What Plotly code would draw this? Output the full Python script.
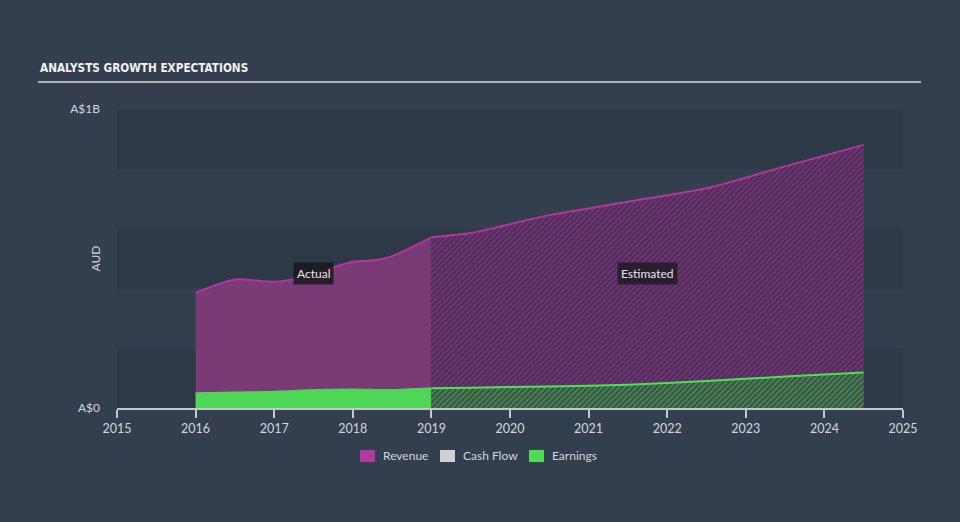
import plotly.graph_objects as go

# ---- data ----
rev_act_x = [2016.0, 2016.5, 2017.0, 2017.3, 2018.0, 2018.3, 2018.5, 2019.0]
rev_act_y = [0.386e9, 0.430e9, 0.422e9, 0.434e9, 0.489e9, 0.495e9, 0.508e9, 0.571e9]
rev_est_x = [2019.0, 2019.5, 2020.5, 2021.5, 2022.5, 2023.5, 2024.5]
rev_est_y = [0.571e9, 0.585e9, 0.645e9, 0.690e9, 0.735e9, 0.808e9, 0.880e9]

earn_act_x = [2016.0, 2016.5, 2017.0, 2017.5, 2018.0, 2018.5, 2019.0]
earn_act_y = [0.049e9, 0.052e9, 0.054e9, 0.060e9, 0.062e9, 0.060e9, 0.066e9]
earn_est_x = [2019.0, 2019.5, 2020.5, 2021.5, 2022.5, 2023.5, 2024.5]
earn_est_y = [0.066e9, 0.068e9, 0.072e9, 0.078e9, 0.090e9, 0.105e9, 0.119e9]

x_ticks = list(range(2015, 2026))
y_tickvals = [0, 1e9]
y_ticktext = ["A$0", "A$1B"]
legend_names = ["Revenue", "Cash Flow", "Earnings"]
legend_colors = ["#B0399E", "#CFCFCF", "#4FD957"]

BG = "#333F4E"
BAND = "#2E3947"
TXT = "#D2D6DC"
FONT = "Lato"

fig = go.Figure()

fig.add_trace(go.Scatter(
    x=rev_act_x, y=rev_act_y, mode="lines", fill="tozeroy",
    fillcolor="#7A3A76", line=dict(color="#B0389C", width=2, shape="spline", smoothing=0.6),
    showlegend=False, hoverinfo="skip"))
fig.add_trace(go.Scatter(
    x=rev_est_x, y=rev_est_y, mode="lines", fill="tozeroy",
    fillpattern=dict(shape="/", bgcolor="#4A2E55", fgcolor="#9E3898", size=4, solidity=0.5),
    line=dict(color="#B0389C", width=2, shape="spline", smoothing=0.6),
    showlegend=False, hoverinfo="skip"))
fig.add_trace(go.Scatter(
    x=earn_act_x, y=earn_act_y, mode="lines", fill="tozeroy",
    fillcolor="#4ED656", line=dict(color="#4ED656", width=2, shape="spline", smoothing=0.6),
    showlegend=False, hoverinfo="skip"))
fig.add_trace(go.Scatter(
    x=earn_est_x, y=earn_est_y, mode="lines", fill="tozeroy",
    fillpattern=dict(shape="/", bgcolor="#3A4C47", fgcolor="#4EC452", size=4, solidity=0.5),
    line=dict(color="#4FE056", width=2, shape="spline", smoothing=0.6),
    showlegend=False, hoverinfo="skip"))

shapes = []
# horizontal bands
for i in range(5):
    if i % 2 == 0:
        shapes.append(dict(type="rect", xref="paper", yref="y", x0=0, x1=1,
                           y0=i * 0.2e9, y1=(i + 1) * 0.2e9,
                           fillcolor=BAND, line_width=0, layer="below"))
# title underline
shapes.append(dict(type="line", xref="paper", yref="paper",
                   x0=-79/786, x1=804/786, y0=(522-82-114)/299, y1=(522-82-114)/299,
                   line=dict(color="#AEB3BA", width=2)))

annotations = [
    dict(text="<b>ANALYSTS GROWTH EXPECTATIONS</b>", xref="paper", yref="paper",
         x=-79/786, y=(522-68-114)/299, xanchor="left", yanchor="middle", showarrow=False,
         font=dict(family="DejaVu Sans Condensed", size=11.7, color="#F2F2F2"),),
    dict(text="AUD", xref="paper", yref="paper", x=-22/786, y=0.5, textangle=-90,
         xanchor="center", yanchor="middle", showarrow=False,
         font=dict(family=FONT, size=12, color=TXT)),
    dict(text="Actual", x=2017.5, y=0.45e9, showarrow=False, bgcolor="rgba(24,24,30,0.85)",
         borderpad=3, font=dict(family=FONT, size=12, color="#E6E6E6")),
    dict(text="Estimated", x=2021.75, y=0.45e9, showarrow=False, bgcolor="rgba(24,24,30,0.75)",
         borderpad=3, font=dict(family=FONT, size=12, color="#E6E6E6")),
]

# manual legend
leg_x = [360, 440, 529]
for name, col, lx in zip(legend_names, legend_colors, leg_x):
    px0 = (lx - 117) / 786
    px1 = (lx + 15 - 117) / 786
    py0 = (522 - 462 - 114) / 299
    py1 = (522 - 450 - 114) / 299
    shapes.append(dict(type="rect", xref="paper", yref="paper", x0=px0, x1=px1,
                       y0=py0, y1=py1, fillcolor=col, line_width=0))
    annotations.append(dict(text=name, xref="paper", yref="paper",
                            x=(lx + 21 - 117) / 786, y=(522 - 456 - 114) / 299,
                            xanchor="left", yanchor="middle", showarrow=False,
                            font=dict(family=FONT, size=12, color=TXT)))

fig.update_layout(
    width=960, height=522,
    margin=dict(l=117, r=57, t=109, b=114),
    paper_bgcolor=BG, plot_bgcolor=BG,
    showlegend=False,
    shapes=shapes, annotations=annotations,
    xaxis=dict(range=[2015, 2025], tickvals=x_ticks, ticktext=[str(v) for v in x_ticks],
               showgrid=False, zeroline=False, showline=True, linecolor="#C3C8CF", linewidth=2,
               ticks="outside", ticklen=8, tickcolor="#C3C8CF", tickwidth=1.5,
               tickfont=dict(family=FONT, size=12.5, color=TXT)),
    yaxis=dict(range=[0, 1e9], tickvals=y_tickvals, ticktext=y_ticktext,
               showgrid=False, zeroline=False, showline=False, ticks="", ticklabelstandoff=16,
               tickfont=dict(family=FONT, size=12, color=TXT)),
)

fig.write_html("out.html", config={"displayModeBar": False},
               post_script="document.body.style.margin='0';document.body.style.background='%s';" % BG)
